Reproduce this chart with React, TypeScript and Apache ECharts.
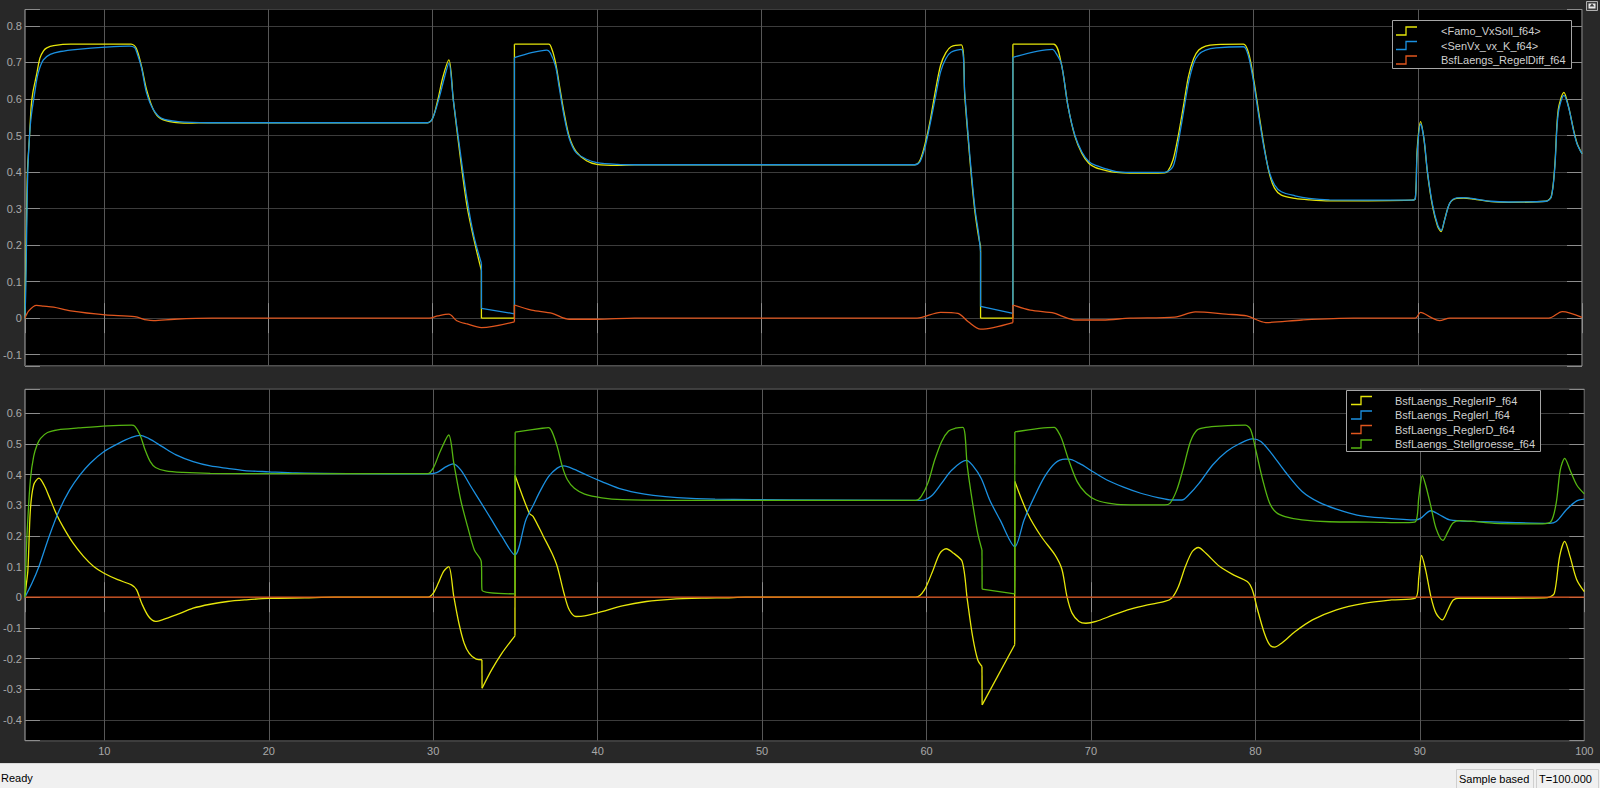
import React, { useEffect, useRef } from 'react';
import * as echarts from 'echarts';

// ---------- data ----------
const TOP_NAMES = ['<Famo_VxSoll_f64>', '<SenVx_vx_K_f64>', 'BsfLaengs_RegelDiff_f64'];
const BOTTOM_NAMES = ['BsfLaengs_ReglerIP_f64', 'BsfLaengs_ReglerI_f64', 'BsfLaengs_ReglerD_f64', 'BsfLaengs_Stellgroesse_f64'];
const X_TICK_LABELS = ['10', '20', '30', '40', '50', '60', '70', '80', '90', '100'];
const T_RANGE = [5.17, 100];
const TOP_Y_RANGE = [-0.131, 0.845];
const BOTTOM_Y_RANGE = [-0.468, 0.678];
const STATUS_TEXTS = ['Ready', 'Sample based', 'T=100.000'];

const famoVxSoll: number[][] = [
  [5.17, 0], [5.2, 0.1], [5.24, 0.2], [5.32, 0.4], [5.45, 0.5], [5.55, 0.58], [5.66, 0.62], [5.87, 0.665], [6.08, 0.712], [6.3, 0.732], [6.5, 0.74], [6.92, 0.746], [7.96, 0.75], [11.64, 0.75], [11.95, 0.739], [12.27, 0.689], [12.58, 0.625], [13.0, 0.57], [13.42, 0.547], [14.26, 0.536], [15.1, 0.534], [16.36, 0.535], [29.69, 0.535], [30.0, 0.547], [30.31, 0.597], [30.63, 0.661], [30.99, 0.707], [31.26, 0.597], [31.68, 0.442], [32.1, 0.305], [32.52, 0.214], [32.97, 0.13], [32.97, 0], [34.98, 0], [34.98, 0.75], [37.07, 0.75], [37.28, 0.734], [37.49, 0.698], [37.7, 0.643], [38.01, 0.561], [38.32, 0.497], [38.74, 0.456], [39.37, 0.431], [40.0, 0.421], [41.26, 0.418], [42.3, 0.42], [59.37, 0.42], [59.69, 0.433], [60.0, 0.479], [60.31, 0.543], [60.63, 0.625], [60.94, 0.693], [61.26, 0.727], [61.57, 0.743], [62.2, 0.748], [62.41, 0.606], [62.62, 0.488], [62.83, 0.378], [63.04, 0.287], [63.25, 0.223], [63.37, 0.196], [63.37, 0], [65.34, 0], [65.34, 0.75], [67.81, 0.75], [68.28, 0.698], [68.7, 0.579], [69.12, 0.497], [69.54, 0.451], [69.96, 0.424], [70.38, 0.412], [71.01, 0.404], [71.63, 0.399], [72.47, 0.397], [74.57, 0.398], [74.77, 0.402], [75.09, 0.433], [75.4, 0.497], [75.72, 0.579], [76.03, 0.661], [76.35, 0.711], [76.66, 0.734], [77.08, 0.745], [77.71, 0.749], [79.38, 0.75], [79.7, 0.725], [80.01, 0.652], [80.32, 0.561], [80.64, 0.47], [80.95, 0.397], [81.27, 0.356], [81.69, 0.337], [82.52, 0.328], [83.36, 0.324], [84.62, 0.321], [89.64, 0.323], [89.85, 0.328], [89.96, 0.461], [90.17, 0.538], [90.38, 0.488], [90.59, 0.397], [90.9, 0.305], [91.21, 0.251], [91.42, 0.237], [91.63, 0.269], [91.95, 0.315], [92.37, 0.328], [92.79, 0.329], [93.41, 0.326], [94.46, 0.319], [95.51, 0.317], [97.81, 0.32], [98.13, 0.333], [98.34, 0.415], [98.55, 0.57], [98.9, 0.618], [99.18, 0.579], [99.49, 0.515], [99.7, 0.479], [100, 0.45],
];

const senVx: number[][] = [
  [5.17, 0], [5.22, 0.08], [5.28, 0.25], [5.34, 0.397], [5.45, 0.5], [5.55, 0.552], [5.76, 0.616], [5.97, 0.67], [6.29, 0.707], [6.71, 0.722], [7.33, 0.73], [8.38, 0.736], [10.06, 0.742], [11.53, 0.745], [11.85, 0.741], [12.0, 0.725], [12.27, 0.685], [12.58, 0.616], [13.0, 0.57], [13.5, 0.547], [14.5, 0.538], [16.36, 0.535], [29.69, 0.535], [30.0, 0.547], [30.42, 0.607], [30.73, 0.661], [30.99, 0.698], [31.26, 0.597], [31.68, 0.455], [32.1, 0.324], [32.52, 0.223], [32.97, 0.15], [32.97, 0.027], [34.98, 0.012], [34.98, 0.713], [36.02, 0.727], [36.96, 0.734], [37.17, 0.726], [37.49, 0.689], [37.7, 0.634], [38.01, 0.552], [38.32, 0.492], [38.74, 0.453], [39.37, 0.435], [40.0, 0.426], [41.26, 0.421], [42.3, 0.42], [59.37, 0.42], [59.69, 0.429], [60.0, 0.47], [60.31, 0.534], [60.63, 0.607], [60.94, 0.675], [61.26, 0.711], [61.57, 0.728], [62.2, 0.736], [62.41, 0.615], [62.62, 0.497], [62.83, 0.388], [63.04, 0.296], [63.25, 0.232], [63.37, 0.182], [63.37, 0.032], [65.34, 0.013], [65.34, 0.714], [67.75, 0.736], [67.9, 0.73], [68.28, 0.698], [68.7, 0.579], [69.12, 0.5], [69.54, 0.455], [69.96, 0.429], [70.38, 0.418], [71.01, 0.409], [71.63, 0.401], [72.47, 0.399], [74.57, 0.399], [75.09, 0.415], [75.4, 0.479], [75.72, 0.561], [76.03, 0.643], [76.35, 0.698], [76.66, 0.722], [77.08, 0.734], [77.71, 0.74], [79.38, 0.743], [79.7, 0.715], [80.01, 0.643], [80.32, 0.552], [80.64, 0.465], [80.95, 0.401], [81.27, 0.365], [81.69, 0.346], [82.52, 0.335], [83.36, 0.328], [84.62, 0.324], [89.64, 0.323], [89.85, 0.328], [89.96, 0.45], [90.17, 0.532], [90.38, 0.49], [90.59, 0.4], [90.9, 0.31], [91.21, 0.255], [91.42, 0.24], [91.63, 0.268], [91.95, 0.315], [92.37, 0.329], [92.79, 0.33], [93.41, 0.327], [94.46, 0.32], [95.51, 0.318], [97.81, 0.32], [98.13, 0.332], [98.34, 0.41], [98.55, 0.56], [98.9, 0.61], [99.18, 0.578], [99.49, 0.512], [99.7, 0.477], [100, 0.45],
];

const regelDiff: number[][] = [
  [5.17, 0], [5.4, 0.02], [5.87, 0.035], [6.3, 0.033], [6.92, 0.03], [7.96, 0.02], [10.06, 0.009], [11.85, 0.004], [12.58, -0.005], [13.0, -0.007], [14.26, -0.003], [16.57, 0], [29.8, 0], [30.31, 0.006], [30.99, 0.011], [31.47, -0.007], [32.1, -0.016], [32.97, -0.026], [34.98, -0.01], [34.98, 0.036], [36.02, 0.022], [37.28, 0.013], [38.32, -0.003], [40.0, -0.003], [42.3, 0], [59.5, 0], [60.94, 0.016], [61.99, 0.013], [62.62, -0.01], [63.37, -0.03], [65.34, -0.012], [65.34, 0.036], [66.39, 0.022], [67.85, 0.014], [68.28, 0.006], [69.12, -0.005], [70.8, -0.005], [72.47, 0], [75.2, 0.003], [76.45, 0.017], [78.33, 0.011], [79.59, 0.006], [80.74, -0.012], [82.94, -0.005], [86.08, 0], [89.85, 0], [90.17, 0.016], [90.8, 0.002], [91.32, -0.007], [91.95, 0], [97.98, 0], [98.8, 0.018], [100, 0.002],
];

const reglerIP: number[][] = [
  [5.17, 0], [5.25, 0.04], [5.35, 0.089], [5.5, 0.285], [5.7, 0.366], [6.02, 0.388], [6.33, 0.366], [6.64, 0.328], [7.06, 0.274], [7.48, 0.23], [8.1, 0.176], [8.73, 0.133], [9.35, 0.1], [9.98, 0.078], [10.81, 0.057], [11.65, 0.04], [11.96, 0.024], [12.27, -0.02], [12.69, -0.063], [13.11, -0.079], [13.52, -0.074], [14.36, -0.058], [15.4, -0.036], [16.44, -0.023], [17.49, -0.014], [18.53, -0.009], [19.99, -0.004], [22.18, -0.002], [24, 0], [29.69, 0], [30.0, 0.013], [30.31, 0.046], [30.63, 0.084], [30.94, 0.1], [31.25, 0.002], [31.56, -0.085], [31.88, -0.15], [32.19, -0.183], [32.61, -0.202], [32.96, -0.204], [32.97, -0.297], [33.55, -0.237], [34.17, -0.183], [34.97, -0.126], [34.98, 0.397], [35.84, 0.274], [36.08, 0.263], [36.7, 0.198], [37.22, 0.143], [37.54, 0.1], [37.95, 0.013], [38.27, -0.041], [38.68, -0.063], [39.21, -0.061], [40.25, -0.047], [41.5, -0.028], [42.96, -0.014], [44.43, -0.007], [46.51, -0.003], [47.77, -0.002], [49, 0], [59.35, 0], [59.87, 0.024], [60.4, 0.089], [60.81, 0.143], [61.19, 0.158], [61.65, 0.143], [62.17, 0.116], [62.48, -0.009], [62.8, -0.128], [63.11, -0.204], [63.37, -0.226], [63.38, -0.351], [65.36, -0.155], [65.37, 0.377], [66.14, 0.274], [66.97, 0.198], [67.81, 0.138], [68.23, 0.091], [68.54, 0.002], [68.85, -0.052], [69.27, -0.079], [69.69, -0.085], [70.31, -0.079], [71.36, -0.058], [72.4, -0.039], [73.44, -0.025], [74.49, -0.014], [74.91, -0.003], [75.32, 0.035], [75.74, 0.1], [76.16, 0.149], [76.53, 0.162], [76.99, 0.143], [77.83, 0.1], [78.66, 0.073], [79.5, 0.051], [79.81, 0.024], [80.13, -0.041], [80.54, -0.117], [80.86, -0.155], [81.17, -0.163], [81.59, -0.15], [82.42, -0.112], [83.47, -0.074], [84.93, -0.041], [86.6, -0.02], [88.27, -0.009], [89.73, -0.003], [89.94, 0.067], [90.1, 0.136], [90.35, 0.089], [90.67, 0.002], [90.98, -0.052], [91.36, -0.074], [91.71, -0.041], [92.03, -0.009], [92.44, -0.003], [95.0, -0.004], [97.5, -0.002], [97.87, 0], [98.18, 0.013], [98.5, 0.133], [98.81, 0.182], [99.13, 0.133], [99.54, 0.057], [100, 0.018],
];

const reglerI: number[][] = [
  [5.17, 0], [5.6, 0.046], [6.02, 0.1], [6.64, 0.198], [7.27, 0.285], [7.89, 0.35], [8.52, 0.399], [9.14, 0.437], [9.98, 0.475], [10.81, 0.5], [11.65, 0.521], [12.17, 0.528], [12.69, 0.518], [13.52, 0.491], [14.36, 0.464], [15.4, 0.442], [16.44, 0.428], [17.49, 0.42], [18.53, 0.413], [19.99, 0.409], [21.66, 0.405], [25, 0.403], [29.69, 0.402], [30.21, 0.406], [30.73, 0.424], [31.21, 0.435], [31.67, 0.415], [32.29, 0.361], [32.92, 0.307], [33.55, 0.252], [34.17, 0.198], [34.96, 0.138], [35.63, 0.252], [36.08, 0.3], [36.49, 0.345], [37.01, 0.393], [37.54, 0.421], [37.95, 0.428], [38.58, 0.417], [39.42, 0.396], [40.25, 0.377], [41.29, 0.355], [42.34, 0.341], [43.38, 0.332], [44.84, 0.325], [47.14, 0.32], [51.73, 0.317], [59.67, 0.316], [60.29, 0.33], [60.92, 0.372], [61.54, 0.415], [62.42, 0.446], [62.8, 0.43], [63.32, 0.388], [63.84, 0.317], [64.47, 0.252], [65.37, 0.165], [65.93, 0.252], [66.56, 0.328], [67.18, 0.393], [67.81, 0.437], [68.43, 0.45], [68.64, 0.45], [69.27, 0.437], [70.1, 0.41], [70.94, 0.383], [71.98, 0.359], [73.03, 0.339], [74.07, 0.325], [74.91, 0.317], [75.53, 0.317], [75.95, 0.334], [76.58, 0.372], [77.41, 0.432], [78.25, 0.475], [79.08, 0.502], [79.81, 0.516], [80.33, 0.508], [80.96, 0.47], [81.8, 0.41], [82.84, 0.345], [83.88, 0.309], [84.93, 0.287], [86.18, 0.268], [87.85, 0.258], [89.73, 0.252], [90.04, 0.257], [90.67, 0.282], [91.19, 0.269], [91.82, 0.252], [93.28, 0.247], [95.37, 0.244], [97.87, 0.241], [98.29, 0.247], [98.91, 0.285], [99.54, 0.314], [100, 0.32],
];

const reglerD: number[][] = [[5.17, 0], [100, 0]];

const stellgroesse: number[][] = [
  [5.17, 0.0], [5.2, 0.06], [5.29, 0.198], [5.5, 0.383], [5.7, 0.459], [5.91, 0.497], [6.12, 0.518], [6.54, 0.537], [7.17, 0.546], [8.42, 0.552], [10.19, 0.559], [11.65, 0.561], [11.86, 0.557], [12.17, 0.529], [12.48, 0.48], [12.79, 0.442], [13.11, 0.423], [13.73, 0.412], [14.78, 0.407], [16.44, 0.404], [19.99, 0.403], [29.69, 0.403], [30.0, 0.421], [30.42, 0.475], [30.94, 0.529], [31.25, 0.437], [31.67, 0.317], [32.09, 0.23], [32.5, 0.154], [32.92, 0.116], [32.97, 0.022], [34.96, 0.011], [34.98, 0.538], [36.63, 0.551], [37.01, 0.553], [37.22, 0.54], [37.54, 0.491], [37.85, 0.426], [38.16, 0.383], [38.58, 0.355], [39.21, 0.336], [40.25, 0.324], [41.5, 0.318], [44.43, 0.316], [59.35, 0.316], [59.67, 0.328], [60.08, 0.372], [60.5, 0.448], [60.92, 0.508], [61.34, 0.542], [61.75, 0.551], [62.21, 0.554], [62.48, 0.426], [62.8, 0.307], [63.11, 0.209], [63.37, 0.154], [63.38, 0.026], [65.36, 0.011], [65.37, 0.539], [67.77, 0.554], [68.0, 0.54], [68.23, 0.515], [68.64, 0.448], [69.16, 0.377], [69.69, 0.339], [70.31, 0.317], [71.36, 0.304], [72.4, 0.301], [74.49, 0.301], [74.8, 0.306], [75.22, 0.35], [75.64, 0.426], [76.05, 0.508], [76.47, 0.546], [76.99, 0.554], [77.83, 0.558], [79.39, 0.561], [79.71, 0.546], [80.02, 0.48], [80.44, 0.383], [80.86, 0.307], [81.27, 0.276], [81.8, 0.263], [82.84, 0.252], [84.51, 0.246], [87.01, 0.245], [89.1, 0.243], [89.73, 0.246], [89.94, 0.328], [90.15, 0.396], [90.35, 0.366], [90.67, 0.296], [90.98, 0.225], [91.4, 0.185], [91.71, 0.214], [92.03, 0.243], [92.44, 0.25], [93.28, 0.247], [94.53, 0.241], [97.45, 0.239], [97.98, 0.247], [98.29, 0.307], [98.54, 0.415], [98.81, 0.453], [99.13, 0.415], [99.54, 0.366], [100, 0.337],
];

// ---------- styling ----------
const FONT = "'Liberation Sans', Arial, sans-serif";
const C_YELLOW = '#e6e60a';
const C_BLUE = '#1b90e0';
const C_ORANGE = '#e0561e';
const C_GREEN = '#55b511';
const LABEL_COLOR = '#a8a8a8';
const TICK_COLOR = '#8c8c8c';
const FRAME_COLOR = '#a0a0a0';
const HGRID = '#3c3c3c';
const VGRID = '#575757';
const SMOOTH = 0.3;

const TOP_COLORS = [C_YELLOW, C_BLUE, C_ORANGE];
const BOTTOM_COLORS = [C_YELLOW, C_BLUE, C_ORANGE, C_GREEN];
const TOP_DATA = [famoVxSoll, senVx, regelDiff];
const BOTTOM_DATA = [reglerIP, reglerI, reglerD, stellgroesse];

function yFmt(v: number): string {
  const r = Math.round(v * 10);
  if (Math.abs(v * 10 - r) > 1e-6) return '';
  return r === 0 ? '0' : (r / 10).toFixed(1);
}
function xFmt(v: number): string {
  const s = String(Math.round(v));
  if (Math.abs(v - Math.round(v)) > 1e-6) return '';
  return X_TICK_LABELS.includes(s) ? s : '';
}

// split a trace into smooth pieces and straight vertical jump pieces
function pieces(data: number[][]): { pts: number[][]; smooth: boolean }[] {
  const out: { pts: number[][]; smooth: boolean }[] = [];
  let cur: number[][] = [data[0]];
  for (let i = 1; i < data.length; i++) {
    const prev = data[i - 1];
    const p = data[i];
    if (Math.abs(p[0] - prev[0]) < 0.02) {
      if (cur.length >= 2) out.push({ pts: cur, smooth: true });
      out.push({ pts: [prev, p], smooth: false });
      cur = [p];
    } else {
      cur.push(p);
    }
  }
  if (cur.length >= 2) out.push({ pts: cur, smooth: true });
  return out;
}

const tickStyle = { show: true, inside: true, length: 15, lineStyle: { color: TICK_COLOR, width: 1 } };

function xAxisDef(gridIndex: number, position: 'top' | 'bottom', labels: boolean, split: boolean) {
  return {
    type: 'value', gridIndex, position, min: T_RANGE[0], max: T_RANGE[1], splitNumber: 10,
    axisLine: { show: false },
    axisTick: tickStyle,
    axisLabel: { show: labels, color: LABEL_COLOR, fontSize: 11, fontFamily: FONT, margin: 5, formatter: xFmt },
    splitLine: { show: split, lineStyle: { color: VGRID, width: 1 } },
  };
}
function yAxisDef(gridIndex: number, position: 'left' | 'right', range: number[], labels: boolean, split: boolean) {
  return {
    type: 'value', gridIndex, position, min: range[0], max: range[1], splitNumber: 10,
    axisLine: { show: false },
    axisTick: tickStyle,
    axisLabel: { show: labels, color: LABEL_COLOR, fontSize: 11, fontFamily: FONT, margin: 3, formatter: yFmt },
    splitLine: { show: split, lineStyle: { color: HGRID, width: 1 } },
  };
}

function legendGraphic(box: { x: number; y: number; w: number; h: number }, names: string[], colors: string[], rowYs: number[], iconX: number, textX: number) {
  const els: any[] = [
    { type: 'rect', z: 100, shape: { x: box.x, y: box.y, width: box.w, height: box.h }, style: { fill: '#000', stroke: '#a6a6a6', lineWidth: 1 } },
  ];
  names.forEach((n, i) => {
    const yc = rowYs[i];
    els.push({
      type: 'polyline', z: 101,
      shape: { points: [[iconX, yc + 4], [iconX + 10, yc + 4], [iconX + 10, yc - 4], [iconX + 21, yc - 4]] },
      style: { stroke: colors[i], lineWidth: 1.3, fill: null },
    });
    els.push({
      type: 'text', z: 101, x: textX, y: yc,
      style: { text: n, fill: '#cfcfcf', fontSize: 11, fontFamily: FONT, verticalAlign: 'middle', align: 'left' },
    });
  });
  return els;
}

function traceSeries(name: string, data: number[][], color: string, axisIdx: number, z: number) {
  return pieces(data).map((pc) => ({
    type: 'line', name, xAxisIndex: axisIdx, yAxisIndex: axisIdx, data: pc.pts,
    showSymbol: false, symbol: 'none', smooth: pc.smooth ? SMOOTH : false,
    lineStyle: { color, width: 1.3 }, itemStyle: { color }, clip: true, z,
  }));
}

function buildOption() {
  const series: any[] = [];
  TOP_NAMES.forEach((n, i) => series.push(...traceSeries(n, TOP_DATA[i], TOP_COLORS[i], 0, 2 + i)));
  BOTTOM_NAMES.forEach((n, i) => series.push(...traceSeries(n, BOTTOM_DATA[i], BOTTOM_COLORS[i], 2, 2 + i)));

  const graphic: any[] = [
    ...legendGraphic({ x: 1392.5, y: 20.5, w: 179, h: 48 }, TOP_NAMES, TOP_COLORS, [31, 45.5, 60], 1396, 1441),
    ...legendGraphic({ x: 1346.5, y: 390.5, w: 194, h: 61 }, BOTTOM_NAMES, BOTTOM_COLORS, [400.5, 415, 429.5, 444], 1351, 1395),
    // status bar
    { type: 'rect', z: 100, shape: { x: 0, y: 763, width: 1600, height: 25 }, style: { fill: '#f0f0f0' } },
    { type: 'line', z: 101, shape: { x1: 0, y1: 763.5, x2: 1600, y2: 763.5 }, style: { stroke: '#d9d9d9', lineWidth: 1 } },
    { type: 'text', z: 101, x: 1, y: 777.5, style: { text: STATUS_TEXTS[0], fill: '#000', fontSize: 11, fontFamily: FONT, verticalAlign: 'middle' } },
    { type: 'rect', z: 101, shape: { x: 1456.5, y: 769.5, width: 77, height: 19 }, style: { fill: '#f0f0f0', stroke: '#cfcfcf', lineWidth: 1 } },
    { type: 'text', z: 102, x: 1459, y: 778.5, style: { text: STATUS_TEXTS[1], fill: '#000', fontSize: 11, fontFamily: FONT, verticalAlign: 'middle' } },
    { type: 'rect', z: 101, shape: { x: 1536.5, y: 769.5, width: 62, height: 19 }, style: { fill: '#f0f0f0', stroke: '#cfcfcf', lineWidth: 1 } },
    { type: 'text', z: 102, x: 1539, y: 778.5, style: { text: STATUS_TEXTS[2], fill: '#000', fontSize: 11, fontFamily: FONT, verticalAlign: 'middle' } },
    // undock button (top right)
    { type: 'rect', z: 101, shape: { x: 1586.5, y: 1.5, width: 11, height: 9 }, style: { fill: '#3c3c3c', stroke: '#b0b0b0', lineWidth: 1 } },
    { type: 'rect', z: 102, shape: { x: 1588.5, y: 3.5, width: 7, height: 5 }, style: { fill: '#e8e8e8' } },
    { type: 'polygon', z: 103, shape: { points: [[1592, 3.5], [1594.5, 6.5], [1589.5, 6.5]] }, style: { fill: '#3c3c3c' } },
  ];

  return {
    animation: false,
    backgroundColor: '#282828',
    grid: [
      { left: 22.5, top: 9.5, width: 1559.5, height: 356.5, show: true, backgroundColor: '#000', borderColor: FRAME_COLOR, borderWidth: 1, containLabel: false },
      { left: 21.3, top: 389.3, width: 1563, height: 351.4, show: true, backgroundColor: '#000', borderColor: FRAME_COLOR, borderWidth: 1, containLabel: false },
    ],
    xAxis: [
      xAxisDef(0, 'bottom', false, true),
      xAxisDef(0, 'top', false, false),
      xAxisDef(1, 'bottom', true, true),
      xAxisDef(1, 'top', false, false),
    ],
    yAxis: [
      yAxisDef(0, 'left', TOP_Y_RANGE, true, true),
      yAxisDef(0, 'right', TOP_Y_RANGE, false, false),
      yAxisDef(1, 'left', BOTTOM_Y_RANGE, true, true),
      yAxisDef(1, 'right', BOTTOM_Y_RANGE, false, false),
    ],
    series,
    graphic,
  };
}

export default function App() {
  const ref = useRef<HTMLDivElement>(null);
  useEffect(() => {
    document.body.style.margin = '0';
    const chart = echarts.init(ref.current as HTMLDivElement, null, { renderer: 'svg' });
    chart.setOption(buildOption() as any);
    return () => chart.dispose();
  }, []);
  return <div ref={ref} style={{ position: 'fixed', left: 0, top: 0, width: 1600, height: 788 }} />;
}
